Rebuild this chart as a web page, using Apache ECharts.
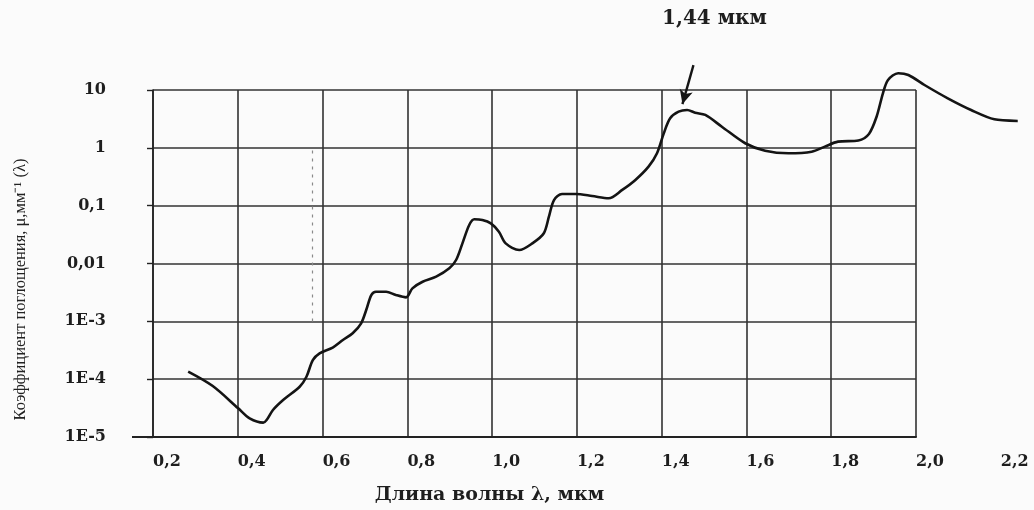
<!DOCTYPE html>
<html><head><meta charset="utf-8">
<script src="https://cdn.jsdelivr.net/npm/echarts@6/dist/echarts.min.js"></script>
<style>html,body{margin:0;padding:0;background:#fbfbfb}#c{width:1034px;height:510px}</style>
</head><body><div id="c"></div>
<script>
// ---- data (wavelength in µm, absorption coefficient in 1/mm) ----
const wavelength = [0.283,0.341,0.401,0.428,0.460,0.468,0.483,0.507,0.546,0.562,0.577,0.593,0.624,0.648,0.671,0.691,0.703,0.715,0.726,0.750,0.773,0.797,0.812,0.836,0.868,0.899,0.915,0.930,0.946,0.958,0.977,0.997,1.016,1.032,1.064,1.095,1.122,1.134,1.146,1.165,1.197,1.236,1.275,1.307,1.338,1.369,1.389,1.405,1.420,1.440,1.460,1.479,1.503,1.542,1.597,1.644,1.699,1.754,1.785,1.816,1.864,1.889,1.907,1.922,1.934,1.958,1.982,2.020,2.075,2.130,2.185,2.240];
const absorption = [1.35e-4,7.6e-5,3.13e-5,2.10e-5,1.77e-5,1.97e-5,2.93e-5,4.36e-5,7.4e-5,1.10e-4,2.14e-4,2.80e-4,3.52e-4,4.75e-4,6.21e-4,9.25e-4,1.57e-3,2.85e-3,3.25e-3,3.25e-3,2.85e-3,2.60e-3,3.72e-3,4.84e-3,5.92e-3,8.26e-3,1.15e-2,2.23e-2,4.63e-2,5.81e-2,5.65e-2,4.95e-2,3.55e-2,2.23e-2,1.71e-2,2.23e-2,3.33e-2,6.44e-2,0.125,0.159,0.159,0.147,0.134,0.187,0.278,0.472,0.804,1.78,3.24,4.22,4.51,4.05,3.70,2.32,1.20,0.892,0.804,0.857,1.05,1.28,1.34,1.74,3.45,8.77,14.9,19.5,18.2,12.2,7.18,4.51,3.11,2.91];
const xTickLabels = ['0,2','0,4','0,6','0,8','1,0','1,2','1,4','1,6','1,8','2,0','2,2'];
const yTickLabels = ['1E-5','1E-4','1E-3','0,01','0,1','1','10'];
const xTitle = 'Длина волны λ, мкм';
const yTitle = 'Коэффициент поглощения, μ,мм⁻¹ (λ)';
const peakLabel = '1,44 мкм';
const arrowFrom = [1.475, 27];
const arrowTo = [1.449, 5.7];
const dottedX = 0.575, dottedFrom = 0.9, dottedTo = 9e-4;

// ---- layout ----
const L = 153, T = 90, W0 = 763, H0 = 347;
const decade = H0 / 6, unit = W0 / 1.8;
const serifBold = {fontFamily: 'DejaVu Serif', fontWeight: 'bold', color: '#1e1e1e'};
const gridLine = {color: '#333', width: 1.6};

const chart = echarts.init(document.getElementById('c'));
chart.setOption({
  animation: false,
  backgroundColor: '#fbfbfb',
  grid: [
    {left: L, top: T, width: W0, height: H0},
    {left: L, top: T - decade, width: unit * 2.05, height: H0 + decade}
  ],
  xAxis: [
    {gridIndex: 0, type: 'value', min: 0.2, max: 2.0, interval: 0.2,
     axisLine: {show: true, lineStyle: {color: '#222', width: 2}}, axisTick: {show: false},
     axisLabel: {show: false}, splitLine: {show: true, lineStyle: gridLine},
     name: xTitle, nameLocation: 'middle', nameGap: 49,
     nameTextStyle: Object.assign({fontSize: 19, padding: [0, 90, 0, 0]}, serifBold)},
    {gridIndex: 1, type: 'value', min: 0.2, max: 2.25, interval: 0.2,
     axisLine: {show: false}, axisTick: {show: false}, splitLine: {show: false},
     axisLabel: Object.assign({fontSize: 16, margin: 17, padding: [0, 0, 0, 28], showMaxLabel: false,
       formatter: function (v) { const i = Math.round((v - 0.2) / 0.2);
         return (Math.abs(v - (0.2 + 0.2 * i)) < 1e-6 && xTickLabels[i]) ? xTickLabels[i] : ''; }}, serifBold)}
  ],
  yAxis: [
    {gridIndex: 0, type: 'log', logBase: 10, min: 1e-5, max: 10,
     axisLine: {show: true, lineStyle: {color: '#222', width: 1.6}},
     axisTick: {show: true, length: 6, lineStyle: {color: '#222', width: 1.4}},
     minorTick: {show: false},
     splitLine: {show: true, lineStyle: gridLine},
     axisLabel: Object.assign({fontSize: 16, margin: 47,
       formatter: function (v) { return yTickLabels[Math.round(Math.log10(v)) + 5] || ''; }}, serifBold),
     name: yTitle, nameLocation: 'middle', nameGap: 124,
     nameTextStyle: {fontFamily: 'Liberation Serif', fontSize: 16.5, color: '#222', padding: [0, 52, 0, 0]}},
    {gridIndex: 1, type: 'log', logBase: 10, min: 1e-5, max: 100,
     axisLine: {show: false}, axisTick: {show: false}, axisLabel: {show: false}, splitLine: {show: false}}
  ],
  series: [{
    type: 'line', xAxisIndex: 1, yAxisIndex: 1, clip: false,
    data: wavelength.map((x, i) => [x, absorption[i]]),
    showSymbol: false, smooth: 0.3,
    lineStyle: {color: '#141414', width: 2.6},
    markLine: {
      silent: true, animation: false, label: {show: false},
      data: [
        [{coord: arrowFrom, symbol: 'none', lineStyle: {color: '#141414', width: 2.4, type: 'solid'}},
         {coord: arrowTo, symbol: 'arrow', symbolSize: [10, 14]}],
        [{coord: [dottedX, dottedFrom], symbol: 'none', lineStyle: {color: '#8a8a8a', width: 1.2, type: [3, 5]}},
         {coord: [dottedX, dottedTo], symbol: 'none'}]
      ]
    }
  }]
});

const base = chart.convertToPixel({xAxisIndex: 0, yAxisIndex: 0}, [0.2, 1e-5]);
const aPix = chart.convertToPixel({xAxisIndex: 1, yAxisIndex: 1}, arrowFrom);
chart.setOption({
  graphic: [
    {type: 'line', shape: {x1: base[0] - 21, y1: base[1], x2: base[0], y2: base[1]},
     style: {stroke: '#222', lineWidth: 2}},
    {type: 'text', x: aPix[0] + 21, y: aPix[1] - 46,
     style: {text: peakLabel, font: 'bold 20px "DejaVu Serif"', fill: '#1e1e1e', align: 'center', verticalAlign: 'middle'}}
  ]
});
</script></body></html>
